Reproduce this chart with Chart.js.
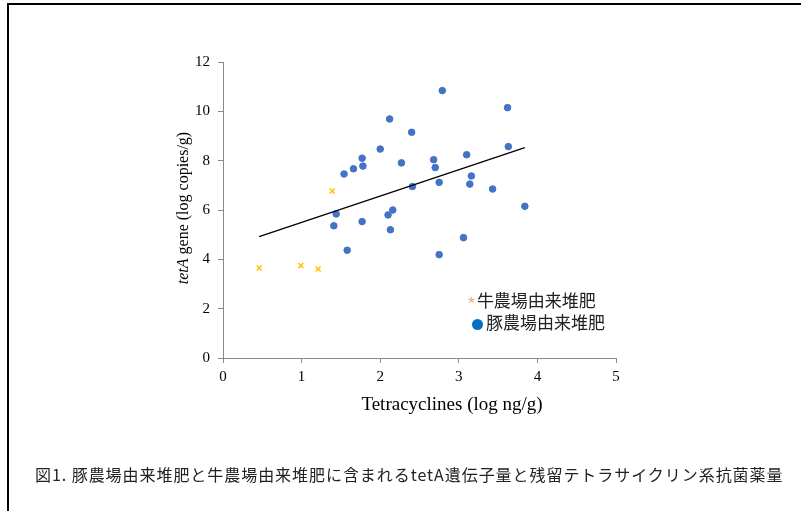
<!DOCTYPE html>
<html>
<head>
<meta charset="utf-8">
<script src="https://cdn.jsdelivr.net/npm/chart.js@4.4.1/dist/chart.umd.min.js"></script>
<style>
    html, body { margin: 0; padding: 0; background: #fff; }
    #wrap { position: relative; width: 801px; height: 511px; overflow: hidden; }
    #frame { position: absolute; left: 7px; top: 3px; width: 820px; height: 540px; border-top: 2px solid #000; border-left: 2px solid #000; }
    #chart { position: absolute; left: 0; top: 0; }
    .legend { position: absolute; font-family: "Noto Sans CJK JP", sans-serif; font-size: 17px; color: #222; white-space: nowrap; line-height: 20px; }
    .legend .mark { display: inline-block; }
    #caption { position: absolute; left: 35px; top: 463px; font-family: "Noto Sans CJK JP", sans-serif; font-size: 16px; letter-spacing: 0.95px; color: #222; white-space: nowrap; line-height: 22px; }
</style>
</head>
<body>
<div id="wrap">
    <div id="frame"></div>
    <canvas id="chart" width="801" height="511"></canvas>
    <div class="legend" style="left:467px; top:290px;"><span class="mark" style="color:#F4B183; font-size:19px; vertical-align:-5px; margin-right:1px;">*</span>牛農場由来堆肥</div>
    <div class="legend" style="left:472px; top:312px;"><span class="mark" style="width:11px; height:11px; border-radius:50%; background:#0070C0; vertical-align:-1px; margin-right:3px;"></span>豚農場由来堆肥</div>
    <div id="caption">図1. 豚農場由来堆肥と牛農場由来堆肥に含まれるtetA遺伝子量と残留テトラサイクリン系抗菌薬量</div>
</div>
<script>
// 牛農場由来堆肥 (cattle manure compost)
var cattleX = [0.46, 0.99, 1.21, 1.39];
var cattleY = [3.65, 3.75, 3.61, 6.77];

// 豚農場由来堆肥 (pig manure compost)
var pigX = [2.12, 2.40, 2.00, 1.77, 1.78, 1.66, 1.54, 2.27, 2.41, 1.44, 1.41, 1.77, 2.16, 2.10, 2.13, 1.58,
            2.79, 3.62, 2.68, 2.70, 3.10, 3.63, 3.16, 2.75, 3.14, 3.43, 3.84, 3.06, 2.75];
var pigY = [9.69, 9.15, 8.47, 8.10, 7.78, 7.67, 7.46, 7.91, 6.95, 5.84, 5.36, 5.53, 6.00, 5.80, 5.20, 4.37,
            10.84, 10.15, 8.04, 7.72, 8.24, 8.57, 7.38, 7.12, 7.05, 6.85, 6.15, 4.88, 4.19];

// trend line end points
var trendX = [0.46, 3.84];
var trendY = [4.92, 8.53];

var xTicks = [0, 1, 2, 3, 4, 5];
var yTicks = [0, 2, 4, 6, 8, 10, 12];

function toPoints(xs, ys) {
    return xs.map(function (x, i) { return {x: x, y: ys[i]}; });
}

var axisGray = '#898989';
var serif = '"Liberation Serif", "Times New Roman", serif';

// axis titles drawn by hand: the y one has an italic "tetA", the x one sits right of centre
var axisTitlePlugin = {
    id: 'axisTitles',
    afterDraw: function (chart) {
        var ctx = chart.ctx;
        ctx.save();
        ctx.fillStyle = '#000';
        ctx.textBaseline = 'middle';
        ctx.textAlign = 'center';
        ctx.font = '19px ' + serif;
        ctx.fillText('Tetracyclines (log ng/g)', 452, 405);

        var first = 'tetA';
        var rest = ' gene (log copies/g)';
        ctx.translate(184, 208);
        ctx.rotate(-Math.PI / 2);
        ctx.font = 'italic 16px ' + serif;
        var w1 = ctx.measureText(first).width;
        ctx.font = '16px ' + serif;
        var w2 = ctx.measureText(rest).width;
        var start = -(w1 + w2) / 2;
        ctx.textAlign = 'left';
        ctx.font = 'italic 16px ' + serif;
        ctx.fillText(first, start, 0);
        ctx.font = '16px ' + serif;
        ctx.fillText(rest, start + w1, 0);
        ctx.restore();
    }
};

var ctx = document.getElementById('chart').getContext('2d');
new Chart(ctx, {
    type: 'scatter',
    data: {
        datasets: [{
            label: '豚農場由来堆肥',
            data: toPoints(pigX, pigY),
            backgroundColor: '#4472C4',
            borderColor: '#4472C4',
            pointRadius: 3.3,
            pointHoverRadius: 3.3,
            order: 2
        }, {
            label: '牛農場由来堆肥',
            data: toPoints(cattleX, cattleY),
            pointStyle: 'crossRot',
            borderColor: '#FFC000',
            backgroundColor: '#FFC000',
            pointRadius: 3.5,
            pointBorderWidth: 1.5,
            order: 3
        }, {
            label: 'trend',
            type: 'line',
            data: toPoints(trendX, trendY),
            borderColor: '#000',
            borderWidth: 1.3,
            pointRadius: 0,
            fill: false,
            order: 1
        }]
    },
    options: {
        responsive: false,
        animation: false,
        events: [],
        layout: { padding: { left: 0, right: 185, top: 62, bottom: 0 } },
        plugins: {
            legend: { display: false },
            tooltip: { enabled: false }
        },
        scales: {
            x: {
                type: 'linear',
                min: 0,
                max: 5,
                afterFit: function (scale) { scale.height = 153; },
                afterBuildTicks: function (scale) {
                    scale.ticks = xTicks.map(function (v) { return {value: v}; });
                },
                grid: { drawOnChartArea: false, color: axisGray, tickLength: 5 },
                border: { color: axisGray, width: 1 },
                ticks: { color: '#000', padding: 5, font: { family: serif, size: 15 } }
            },
            y: {
                type: 'linear',
                min: 0,
                max: 12,
                afterFit: function (scale) { scale.width = 223; },
                afterBuildTicks: function (scale) {
                    scale.ticks = yTicks.map(function (v) { return {value: v}; });
                },
                grid: { drawOnChartArea: false, color: axisGray, tickLength: 5 },
                border: { color: axisGray, width: 1 },
                ticks: { color: '#000', padding: 8, font: { family: serif, size: 15 } }
            }
        }
    },
    plugins: [axisTitlePlugin]
});
</script>
</body>
</html>
